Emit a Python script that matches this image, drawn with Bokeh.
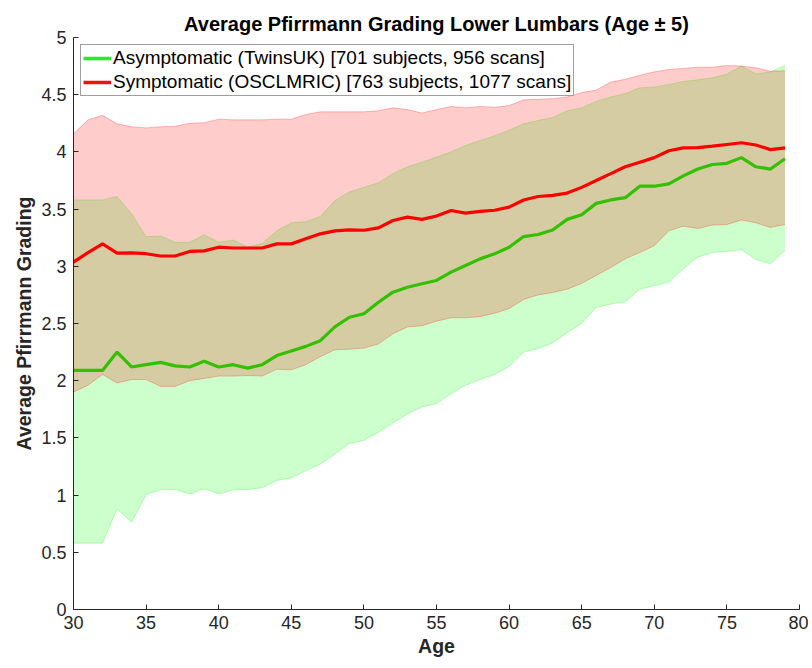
from bokeh.plotting import figure
from bokeh.models import Range1d, FixedTicker, Legend, LegendItem, ColumnDataSource
from bokeh.embed import file_html
from bokeh.resources import INLINE

ages = list(range(30, 80))

green_mean = [2.09, 2.09, 2.09, 2.25, 2.12, 2.14, 2.16, 2.13, 2.12, 2.17,
              2.12, 2.14, 2.11, 2.14, 2.22, 2.26, 2.30, 2.35, 2.47, 2.555,
              2.585, 2.686, 2.774, 2.817, 2.847, 2.876, 2.949, 3.007, 3.065, 3.109,
              3.167, 3.26, 3.278, 3.318, 3.41, 3.45, 3.55, 3.58, 3.60, 3.70,
              3.70, 3.72, 3.79, 3.85, 3.89, 3.90, 3.95, 3.87, 3.85, 3.94]
green_upper = [3.58, 3.58, 3.58, 3.61, 3.46, 3.26, 3.265, 3.21, 3.21, 3.275,
               3.21, 3.23, 3.17, 3.20, 3.31, 3.38, 3.39, 3.435, 3.575, 3.65,
               3.69, 3.73, 3.81, 3.87, 3.91, 3.955, 4.0, 4.056, 4.10, 4.14,
               4.19, 4.245, 4.275, 4.30, 4.36, 4.385, 4.44, 4.48, 4.51, 4.56,
               4.566, 4.59, 4.615, 4.63, 4.648, 4.68, 4.75, 4.68, 4.70, 4.755]
green_lower = [0.58, 0.58, 0.58, 0.88, 0.763, 1.005, 1.046, 1.05, 1.01, 1.055,
               1.01, 1.046, 1.05, 1.064, 1.128, 1.15, 1.215, 1.27, 1.36, 1.45,
               1.477, 1.55, 1.63, 1.71, 1.77, 1.80, 1.885, 1.96, 2.01, 2.054,
               2.124, 2.25, 2.28, 2.33, 2.42, 2.50, 2.64, 2.67, 2.69, 2.80,
               2.83, 2.86, 2.98, 3.08, 3.12, 3.13, 3.145, 3.06, 3.02, 3.14]

red_mean = [3.036, 3.12, 3.196, 3.115, 3.118, 3.11, 3.09, 3.09, 3.13, 3.135,
            3.167, 3.16, 3.16, 3.16, 3.196, 3.196, 3.24, 3.284, 3.31, 3.318,
            3.315, 3.336, 3.40, 3.43, 3.41, 3.44, 3.488, 3.465, 3.48, 3.49,
            3.517, 3.58, 3.61, 3.62, 3.64, 3.69, 3.75, 3.81, 3.87, 3.91,
            3.95, 4.01, 4.035, 4.037, 4.05, 4.065, 4.08, 4.06, 4.02, 4.035]
red_upper = [4.158, 4.28, 4.32, 4.245, 4.22, 4.21, 4.22, 4.225, 4.25, 4.255,
             4.286, 4.28, 4.28, 4.28, 4.286, 4.286, 4.327, 4.35, 4.35, 4.35,
             4.35, 4.36, 4.385, 4.37, 4.34, 4.37, 4.397, 4.385, 4.397, 4.39,
             4.405, 4.455, 4.46, 4.465, 4.48, 4.52, 4.54, 4.61, 4.635, 4.67,
             4.70, 4.72, 4.73, 4.74, 4.74, 4.755, 4.75, 4.735, 4.705, 4.71]
red_lower = [1.90, 1.96, 2.054, 1.98, 2.01, 2.01, 1.95, 1.95, 2.0, 2.02,
             2.04, 2.04, 2.045, 2.04, 2.10, 2.095, 2.14, 2.21, 2.27, 2.275,
             2.285, 2.32, 2.41, 2.47, 2.48, 2.52, 2.55, 2.55, 2.56, 2.59,
             2.63, 2.71, 2.75, 2.77, 2.80, 2.85, 2.92, 2.99, 3.065, 3.12,
             3.18, 3.31, 3.35, 3.33, 3.36, 3.365, 3.405, 3.38, 3.34, 3.365]

y_ticks = [0, 0.5, 1, 1.5, 2, 2.5, 3, 3.5, 4, 4.5, 5]
y_tick_labels = ["0", "0.5", "1", "1.5", "2", "2.5", "3", "3.5", "4", "4.5", "5"]
x_ticks = [30, 35, 40, 45, 50, 55, 60, 65, 70, 75, 80]

label_green = "Asymptomatic (TwinsUK) [701 subjects, 956 scans]"
label_red = "Symptomatic (OSCLMRIC) [763 subjects, 1077 scans]"

FONT = "Liberation Sans"
AXC = "#262626"

src = ColumnDataSource(dict(age=ages, gm=green_mean, gu=green_upper, gl=green_lower,
                            rm=red_mean, ru=red_upper, rl=red_lower))

p = figure(width=808, height=664, output_backend="svg", toolbar_location=None,
           x_range=Range1d(30, 80), y_range=Range1d(0, 5),
           min_border_left=73, min_border_right=9, min_border_top=37, min_border_bottom=55)

p.title.text = "Average Pfirrmann Grading Lower Lumbars (Age \u00b1 5)"
p.title.align = "center"
p.title.text_font = FONT
p.title.text_font_size = "20px"
p.title.text_font_style = "bold"
p.title.text_color = "#000000"
p.title.offset = 0
p.title.standoff = 5

p.outline_line_color = None
p.xgrid.visible = False
p.ygrid.visible = False

# bands
p.varea(x="age", y1="gl", y2="gu", source=src, fill_color="#00ff00", fill_alpha=0.2)
p.line(x="age", y="gu", source=src, line_color="#00ff00", line_alpha=0.25, line_width=1)
p.line(x="age", y="gl", source=src, line_color="#00ff00", line_alpha=0.25, line_width=1)
p.varea(x="age", y1="rl", y2="ru", source=src, fill_color="#ff0000", fill_alpha=0.2)
p.line(x="age", y="ru", source=src, line_color="#ff0000", line_alpha=0.25, line_width=1)
p.line(x="age", y="rl", source=src, line_color="#ff0000", line_alpha=0.25, line_width=1)

# means
p.line(x="age", y="gm", source=src, line_color="#33c000", line_width=3.2)
p.line(x="age", y="rm", source=src, line_color="#ff0000", line_width=3.2)

# legend samples (single NaN point, draws nothing in the plot)
nan = float("nan")
lg = p.line(x=[ages[0]], y=[nan], line_color="#22ee22", line_width=3.5)
lr = p.line(x=[ages[0]], y=[nan], line_color="#ee1111", line_width=3.5)

legend = Legend(items=[LegendItem(label=label_green, renderers=[lg]),
                       LegendItem(label=label_red, renderers=[lr])],
                location="top_left")
legend.margin = 7
legend.padding = 2
legend.spacing = 2
legend.glyph_width = 28
legend.glyph_height = 22
legend.label_height = 22
legend.label_standoff = 2
legend.label_text_font = FONT
legend.label_text_font_size = "19px"
legend.label_text_color = "#000000"
legend.border_line_color = "#404040"
legend.border_line_width = 1
legend.background_fill_alpha = 1.0
p.add_layout(legend, "center")

for ax in (p.xaxis[0], p.yaxis[0]):
    ax.axis_line_color = AXC
    ax.major_tick_line_color = AXC
    ax.major_tick_in = 5
    ax.major_tick_out = 0
    ax.minor_tick_line_color = None
    ax.major_label_text_font = FONT
    ax.major_label_text_font_size = "18px"
    ax.major_label_text_color = AXC
    ax.axis_label_text_font = FONT
    ax.axis_label_text_font_size = "19.5px"
    ax.axis_label_text_font_style = "bold"
    ax.axis_label_text_color = AXC

p.xaxis.ticker = FixedTicker(ticks=x_ticks)
p.yaxis.ticker = FixedTicker(ticks=y_ticks)
p.yaxis.major_label_overrides = {t: l for t, l in zip(y_ticks, y_tick_labels)}
p.xaxis.axis_label = "Age"
p.yaxis.axis_label = "Average Pfirrmann Grading"
p.xaxis.major_label_standoff = 6
p.yaxis.major_label_standoff = 7
p.xaxis.axis_label_standoff = 3
p.yaxis.axis_label_standoff = 3

open("out.html", "w").write(file_html(p, INLINE))
